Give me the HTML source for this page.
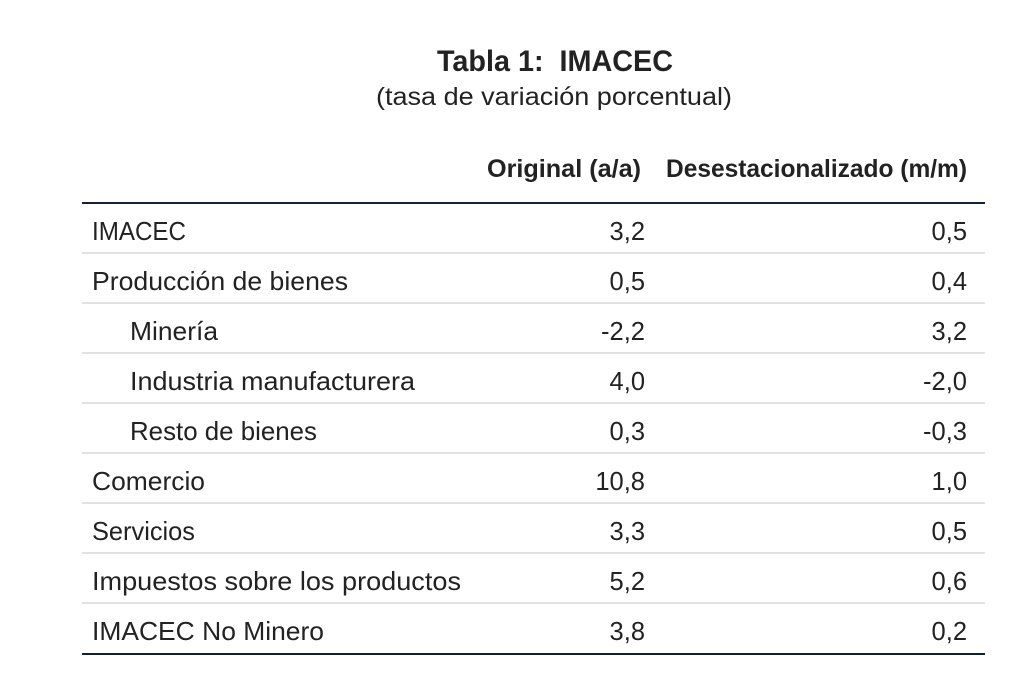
<!DOCTYPE html>
<html>
<head>
<meta charset="utf-8">
<style>
  html, body { margin: 0; padding: 0; background: #ffffff; }
  body { width: 1024px; height: 682px; overflow: hidden; }
  svg { display: block; }
  text { font-family: "Liberation Sans", Arial, sans-serif; fill: #222222; }
  .t { font-size: 30px; font-weight: bold; white-space: pre; }
  .s { font-size: 25px; }
  .h { font-size: 25px; font-weight: bold; }
  .r { font-size: 26px; }
  .n { font-size: 25.5px; }
</style>
</head>
<body>
<svg width="1024" height="682" viewBox="0 0 1024 682" xmlns="http://www.w3.org/2000/svg">
  <rect x="0" y="0" width="1024" height="682" fill="#ffffff"/>

  <!-- Title -->
  <text class="t" x="437" y="71" textLength="236" lengthAdjust="spacingAndGlyphs" xml:space="preserve">Tabla 1:  IMACEC</text>
  <text class="s" x="376" y="105" textLength="356" lengthAdjust="spacingAndGlyphs">(tasa de variación porcentual)</text>

  <!-- Header -->
  <text class="h" x="487" y="177" textLength="154" lengthAdjust="spacingAndGlyphs">Original (a/a)</text>
  <text class="h" x="666" y="177" textLength="301" lengthAdjust="spacingAndGlyphs">Desestacionalizado (m/m)</text>

  <!-- Top rule -->
  <rect x="82" y="202" width="903" height="2" fill="#0f2236"/>

  <!-- Row separators -->
  <g fill="#e2e2e2">
    <rect x="82" y="252" width="903" height="2"/>
    <rect x="82" y="302" width="903" height="2"/>
    <rect x="82" y="352" width="903" height="2"/>
    <rect x="82" y="402" width="903" height="2"/>
    <rect x="82" y="452" width="903" height="2"/>
    <rect x="82" y="502" width="903" height="2"/>
    <rect x="82" y="552" width="903" height="2"/>
    <rect x="82" y="602" width="903" height="2"/>
  </g>

  <!-- Bottom rule -->
  <rect x="82" y="653" width="903" height="2" fill="#0f2236"/>

  <!-- Labels -->
  <g>
    <text class="r" x="92" y="240" textLength="94" lengthAdjust="spacingAndGlyphs">IMACEC</text>
    <text class="r" x="92" y="290" textLength="256" lengthAdjust="spacingAndGlyphs">Producción de bienes</text>
    <text class="r" x="130" y="340" textLength="88" lengthAdjust="spacingAndGlyphs">Minería</text>
    <text class="r" x="130" y="390" textLength="285" lengthAdjust="spacingAndGlyphs">Industria manufacturera</text>
    <text class="r" x="130" y="440" textLength="187" lengthAdjust="spacingAndGlyphs">Resto de bienes</text>
    <text class="r" x="92" y="490" textLength="113" lengthAdjust="spacingAndGlyphs">Comercio</text>
    <text class="r" x="92" y="540" textLength="103" lengthAdjust="spacingAndGlyphs">Servicios</text>
    <text class="r" x="92" y="590" textLength="369" lengthAdjust="spacingAndGlyphs">Impuestos sobre los productos</text>
    <text class="r" x="92" y="640" textLength="232" lengthAdjust="spacingAndGlyphs">IMACEC No Minero</text>
  </g>

  <!-- Column 1 values -->
  <g text-anchor="end">
    <text class="n" x="645" y="240">3,2</text>
    <text class="n" x="645" y="290">0,5</text>
    <text class="n" x="645" y="340">-2,2</text>
    <text class="n" x="645" y="390">4,0</text>
    <text class="n" x="645" y="440">0,3</text>
    <text class="n" x="645" y="490">10,8</text>
    <text class="n" x="645" y="540">3,3</text>
    <text class="n" x="645" y="590">5,2</text>
    <text class="n" x="645" y="640">3,8</text>
  </g>

  <!-- Column 2 values -->
  <g text-anchor="end">
    <text class="n" x="967" y="240">0,5</text>
    <text class="n" x="967" y="290">0,4</text>
    <text class="n" x="967" y="340">3,2</text>
    <text class="n" x="967" y="390">-2,0</text>
    <text class="n" x="967" y="440">-0,3</text>
    <text class="n" x="967" y="490">1,0</text>
    <text class="n" x="967" y="540">0,5</text>
    <text class="n" x="967" y="590">0,6</text>
    <text class="n" x="967" y="640">0,2</text>
  </g>
</svg>
</body>
</html>
